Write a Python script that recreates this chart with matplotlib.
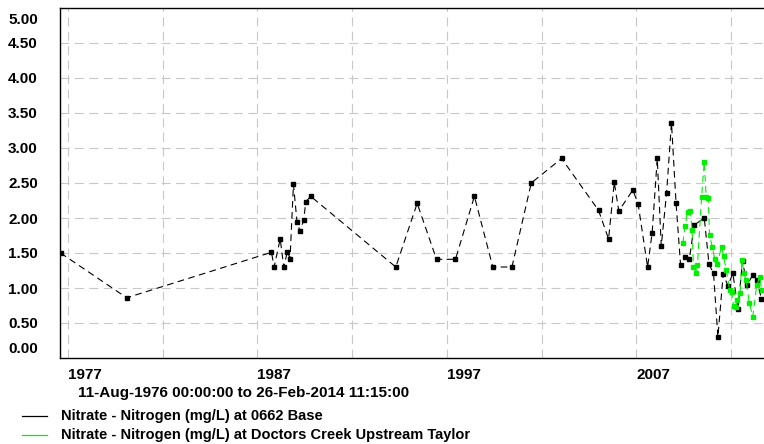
import matplotlib
matplotlib.use("Agg")
import matplotlib.pyplot as plt
from matplotlib.lines import Line2D

plt.rcParams['font.family'] = ['Liberation Sans', 'DejaVu Sans']
plt.rcParams['font.weight'] = 'bold'

# decimal years, values in mg/L
base_x = [1976.61, 1980.1, 1987.74, 1987.88, 1988.2, 1988.39, 1988.58, 1988.72, 1988.9,
          1989.09, 1989.25, 1989.44, 1989.55, 1989.81, 1994.30, 1995.43, 1996.45,
          1997.45, 1998.45, 1999.42, 2000.43, 2001.45, 2003.05, 2005.0, 2005.53,
          2005.83, 2006.07, 2006.81, 2007.09, 2007.59, 2007.83, 2008.1, 2008.31,
          2008.59, 2008.85, 2009.09, 2009.33, 2009.59, 2009.80, 2010.05, 2010.58,
          2010.83, 2011.07, 2011.30, 2011.58, 2011.83, 2012.09, 2012.36, 2012.60,
          2012.83, 2013.13, 2013.36, 2013.60]
base_y = [1.50, 0.86, 1.51, 1.30, 1.70, 1.30, 1.52, 1.42, 2.48,
          1.94, 1.81, 1.97, 2.23, 2.31, 1.30, 2.21, 1.41,
          1.41, 2.31, 1.30, 1.30, 2.50, 2.85, 2.11, 1.70,
          2.51, 2.10, 2.40, 2.20, 1.30, 1.79, 2.85, 1.60,
          2.35, 3.36, 2.22, 1.33, 1.44, 1.42, 1.90, 2.00,
          1.34, 1.21, 0.30, 1.20, 1.03, 1.21, 0.70, 1.39,
          1.04, 1.18, 1.11, 0.84]

creek_x = [2009.45, 2009.56, 2009.70, 2009.84, 2009.94, 2010.01, 2010.16, 2010.22,
           2010.44, 2010.58, 2010.68, 2010.79, 2010.86, 2011.00, 2011.14, 2011.25,
           2011.50, 2011.60, 2011.74, 2011.92, 2012.02, 2012.13, 2012.23, 2012.33,
           2012.47, 2012.57, 2012.68, 2012.78, 2012.96, 2013.14, 2013.35, 2013.52,
           2013.61]
creek_y = [1.64, 1.88, 2.09, 2.10, 1.83, 1.30, 1.21, 1.33,
           2.30, 2.80, 2.30, 2.28, 1.76, 1.59, 1.41, 1.34,
           1.59, 1.45, 1.26, 0.97, 0.95, 0.74, 0.73, 0.83,
           0.93, 1.40, 1.21, 1.11, 0.79, 0.59, 1.04, 1.16,
           0.97]

y_ticks = [0.5, 1.0, 1.5, 2.0, 2.5, 3.0, 3.5, 4.0, 4.5]
x_grid = [1977, 1982, 1987, 1992, 1997, 2002, 2007, 2012]
x_labels = ['1977', '', '1987', '', '1997', '', '2007', '']

W, H = 764, 444
fig = plt.figure(figsize=(W / 100, H / 100), dpi=100)
ax = fig.add_axes([60 / W, 86 / H, (772 - 60) / W, 350 / H])

dash = (0, (6, 4))
green = '#00f000'
ax.plot(base_x, base_y, color='black', lw=0.8, linestyle=dash,
        marker='s', markersize=2.4, zorder=3)
ax.plot(creek_x, creek_y, color=green, lw=0.8, linestyle=dash,
        marker='s', markersize=2.4, zorder=3)

ax.set_xlim(1976.58, 2014.155)
ax.set_ylim(0, 5)

ax.set_yticks(y_ticks)
ax.set_yticklabels(['%.2f' % v for v in y_ticks])
ax.set_xticks(x_grid)
ax.set_xticklabels(x_labels)
ax.tick_params(axis='y', length=0, pad=16, labelsize=11)
ax.tick_params(axis='x', length=0, pad=7, labelsize=11)
for lab in ax.get_xticklabels():
    lab.set_horizontalalignment('left')

# end labels sit inside the axis range
for v, off in [(0.0, 6.5), (5.0, -9)]:
    ax.annotate('%.2f' % v, xy=(0, v), xycoords=('axes fraction', 'data'),
                xytext=(-16, off), textcoords='offset points',
                ha='right', va='center', fontsize=11, fontweight='bold')

ax.grid(True, color='#c8c8c8', linestyle=(0, (8, 5)), lw=0.8)
for s in ['left', 'bottom', 'top']:
    ax.spines[s].set_color('black')
    ax.spines[s].set_linewidth(1.0)
ax.spines['right'].set_visible(False)

fig.text(78 / W, 1 - 393 / H, '11-Aug-1976 00:00:00 to 26-Feb-2014 11:15:00',
         ha='left', va='center', fontsize=11, fontweight='bold')

legend_names = ['Nitrate - Nitrogen (mg/L) at 0662 Base',
                'Nitrate - Nitrogen (mg/L) at Doctors Creek Upstream Taylor']
legend_colors = ['black', green]
for i, (name, col) in enumerate(zip(legend_names, legend_colors)):
    yy = 1 - (416 + 19 * i) / H
    fig.add_artist(Line2D([22 / W, 47 / W], [yy, yy], color=col, lw=0.9,
                          transform=fig.transFigure))
    fig.text(61 / W, yy, name, ha='left', va='center', fontsize=10.5,
             fontweight='bold')

fig.savefig('out.png', dpi=100)
